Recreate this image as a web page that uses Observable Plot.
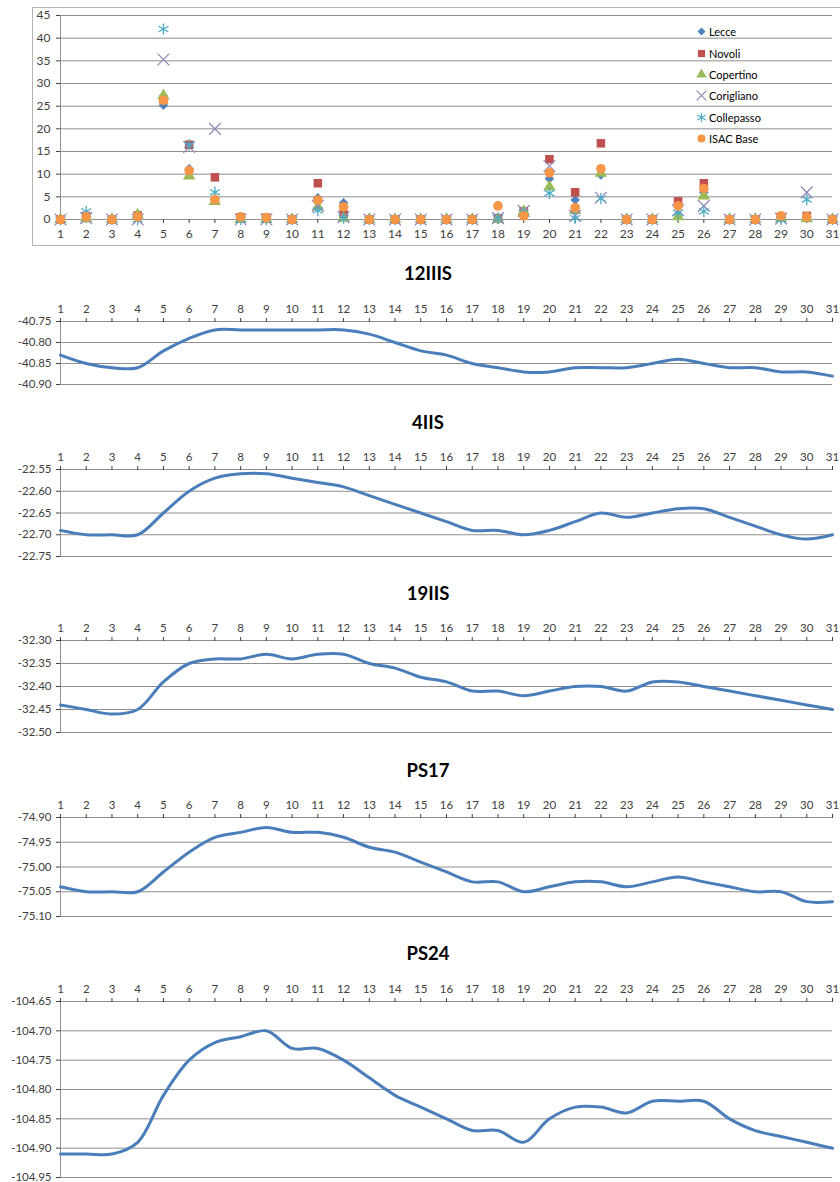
<!DOCTYPE html>
<html><head><meta charset="utf-8">
<script src="https://cdn.jsdelivr.net/npm/d3@7"></script>
<script src="https://cdn.jsdelivr.net/npm/@observablehq/plot@0.6"></script>
<style>
body{margin:0;background:#fff;font-family:Lato,"Noto Sans",sans-serif;}
#wrap{position:relative;width:840px;height:1182px;overflow:hidden;background:#fff;}
.abs{position:absolute;left:0;}
.title{position:absolute;left:0;width:856px;text-align:center;font:bold 18.5px Lato,"Noto Sans",sans-serif;color:#000;line-height:22px;}
#frame{position:absolute;left:32px;top:7px;width:830px;height:237px;border:1px solid #b4b4b4;}
#legend{position:absolute;left:696px;top:21px;font:11px Lato,"Noto Sans",sans-serif;color:#000;}
#legend .row{height:21.4px;display:flex;align-items:center;}
#legend svg{width:11px;height:11px;margin-right:2px;}
</style></head>
<body><div id="wrap"><div id="frame"></div></div>
<script>
const days = [1,2,3,4,5,6,7,8,9,10,11,12,13,14,15,16,17,18,19,20,21,22,23,24,25,26,27,28,29,30,31];
const seriesNames = ["Lecce","Novoli","Copertino","Corigliano","Collepasso","ISAC Base"];
const lecce      = [0,0.5,0,0.8,25.2,11.2,4.6,0.5,0.4,0,4.8,3.7,0,0,0,0,0,0,1.0,9.0,4.3,9.8,0,0,3.5,6.0,0,0,0.4,0.5,0];
const novoli     = [0,0.8,0,0.9,26.5,16.5,9.3,0.5,0.4,0,8.0,1.2,0,0,0,0,0,0.3,1.8,13.3,6.0,16.8,0,0,4.0,8.0,0,0,0.6,0.8,0];
const copertino  = [0,0.2,0,1.0,27.3,9.6,4.0,0,0,0,2.8,0.3,0,0,0,0,0,0,1.8,7.2,2.0,10.2,0,0,0.6,5.2,0,0,0.3,0.2,0];
const corigliano = [0,0.3,0,0,35.3,16.0,20.0,0,0,0,3.0,0.5,0,0,0,0,0,0.3,1.9,11.8,0.8,4.8,0,0,2.0,3.0,0,0,0.2,6.0,0];
const collepasso = [0,1.8,0,0,42.0,16.5,6.0,0,0,0,2.0,0.3,0,0,0,0,0,0.3,1.5,5.8,0.3,4.6,0,0,1.5,1.8,0,0,0,4.4,0];
const isacBase   = [0,0.6,0,0.6,26.3,10.8,4.4,0.6,0.4,0,4.3,2.8,0,0,0,0,0,3.0,0.8,10.3,2.6,11.2,0,0,3.0,6.8,0,0,0.8,0.6,0];
const rainTicks = [0,5,10,15,20,25,30,35,40,45];

const titles = ["12IIIS","4IIS","19IIS","PS17","PS24"];
const s12IIIS = [-40.83,-40.85,-40.86,-40.86,-40.82,-40.79,-40.77,-40.77,-40.77,-40.77,-40.77,-40.77,-40.78,-40.80,-40.82,-40.83,-40.85,-40.86,-40.87,-40.87,-40.86,-40.86,-40.86,-40.85,-40.84,-40.85,-40.86,-40.86,-40.87,-40.87,-40.88];
const s4IIS   = [-22.69,-22.70,-22.70,-22.70,-22.65,-22.60,-22.57,-22.56,-22.56,-22.57,-22.58,-22.59,-22.61,-22.63,-22.65,-22.67,-22.69,-22.69,-22.70,-22.69,-22.67,-22.65,-22.66,-22.65,-22.64,-22.64,-22.66,-22.68,-22.70,-22.71,-22.70];
const s19IIS  = [-32.44,-32.45,-32.46,-32.45,-32.39,-32.35,-32.34,-32.34,-32.33,-32.34,-32.33,-32.33,-32.35,-32.36,-32.38,-32.39,-32.41,-32.41,-32.42,-32.41,-32.40,-32.40,-32.41,-32.39,-32.39,-32.40,-32.41,-32.42,-32.43,-32.44,-32.45];
const sPS17   = [-75.04,-75.05,-75.05,-75.05,-75.01,-74.97,-74.94,-74.93,-74.92,-74.93,-74.93,-74.94,-74.96,-74.97,-74.99,-75.01,-75.03,-75.03,-75.05,-75.04,-75.03,-75.03,-75.04,-75.03,-75.02,-75.03,-75.04,-75.05,-75.05,-75.07,-75.07];
const sPS24   = [-104.91,-104.91,-104.91,-104.89,-104.81,-104.75,-104.72,-104.71,-104.70,-104.73,-104.73,-104.75,-104.78,-104.81,-104.83,-104.85,-104.87,-104.87,-104.89,-104.85,-104.83,-104.83,-104.84,-104.82,-104.82,-104.82,-104.85,-104.87,-104.88,-104.89,-104.90];
const ticks12IIIS = [-40.90,-40.85,-40.80,-40.75];
const ticks4IIS   = [-22.75,-22.70,-22.65,-22.60,-22.55];
const ticks19IIS  = [-32.50,-32.45,-32.40,-32.35,-32.30];
const ticksPS17   = [-75.10,-75.05,-75.00,-74.95,-74.90];
const ticksPS24   = [-104.95,-104.90,-104.85,-104.80,-104.75,-104.70,-104.65];

const wrap = document.getElementById("wrap");
const GRID = "#8e8e8e";
const TXT = "#404040";
const FONT = "Lato, 'Noto Sans', sans-serif";

// ---------- top scatter chart ----------
const rainValues = [lecce, novoli, copertino, corigliano, collepasso, isacBase];
const markStyle = [
  {symbol:"square", rotate:45, fill:"#4F81BD", r:3.8},
  {symbol:"square", rotate:0, fill:"#C0504D", r:4.8},
  {symbol:"triangle", rotate:0, fill:"#9BBB59", r:4.6},
  {symbol:"times", rotate:0, stroke:"#9686B6", r:5.4},
  {symbol:"asterisk", rotate:0, stroke:"#4BACC6", r:5.4},
  {symbol:"circle", rotate:0, fill:"#F79646", r:4.8}
];
const dotMarks = rainValues.map((vals, k) => {
  const data = days.map((d,i) => ({day:d, v:vals[i]}));
  const st = markStyle[k];
  const o = {x:"day", y:"v", symbol:st.symbol, r:st.r, rotate:st.rotate};
  if (st.fill) { o.fill = st.fill; o.stroke = "none"; }
  else { o.stroke = st.stroke; o.fill = "none"; o.strokeWidth = 1.3; }
  return Plot.dot(data, o);
});
const rainChart = Plot.plot({
  width:840, height:250, marginLeft:60, marginRight:8, marginTop:15, marginBottom:31,
  style:{fontFamily:FONT, fontSize:"12px", color:TXT, background:"transparent", overflow:"visible"},
  x:{domain:[1,31]}, y:{domain:[0,45]},
  marks:[
    Plot.gridY(rainTicks,{stroke:GRID, strokeOpacity:1}),
    Plot.ruleX([1],{stroke:GRID}),
    Plot.axisY(rainTicks,{tickSize:4, tickPadding:6, tickFormat:d=>String(d), label:null}),
    Plot.axisX(days,{tickSize:4, tickPadding:6, tickFormat:d=>String(d), label:null}),
    ...dotMarks
  ]
});
rainChart.classList.add("abs"); rainChart.style.top = "0px";
wrap.appendChild(rainChart);

// legend
const legendDiv = document.createElement("div");
legendDiv.id = "legend";
const symMap = {square:d3.symbolSquare, triangle:d3.symbolTriangle, times:d3.symbolTimes, asterisk:d3.symbolAsterisk, circle:d3.symbolCircle};
seriesNames.forEach((name, k) => {
  const st = markStyle[k];
  const row = document.createElement("div"); row.className = "row";
  const svg = d3.create("svg").attr("viewBox","-6 -6 12 12");
  const p = svg.append("path")
    .attr("d", d3.symbol(symMap[st.symbol], Math.PI*st.r*st.r*0.85)())
    .attr("transform", `rotate(${st.rotate})`);
  if (st.fill) p.attr("fill", st.fill); else p.attr("fill","none").attr("stroke", st.stroke).attr("stroke-width",1.3);
  row.appendChild(svg.node());
  const t = document.createElement("span"); t.textContent = name; row.appendChild(t);
  legendDiv.appendChild(row);
});
wrap.appendChild(legendDiv);

// ---------- line charts ----------
const lineSeries = [s12IIIS, s4IIS, s19IIS, sPS17, sPS24];
const lineTicks = [ticks12IIIS, ticks4IIS, ticks19IIS, ticksPS17, ticksPS24];
const layout = [
  {titleY:273, svgTop:291, h:63},
  {titleY:422, svgTop:439, h:87},
  {titleY:593, svgTop:610, h:92},
  {titleY:770, svgTop:787, h:99},
  {titleY:953, svgTop:971, h:176}
];
lineSeries.forEach((vals, k) => {
  const tk = lineTicks[k];
  const L = layout[k];
  const data = days.map((d,i) => ({day:d, v:vals[i]}));
  const chart = Plot.plot({
    width:840, height:30 + L.h + 8, marginLeft:60, marginRight:8, marginTop:30, marginBottom:8,
    style:{fontFamily:FONT, fontSize:"11.5px", color:TXT, background:"transparent", overflow:"visible"},
    x:{domain:[1,31]}, y:{domain:[tk[0], tk[tk.length-1]]},
    marks:[
      Plot.gridY(tk,{stroke:GRID, strokeOpacity:1}),
      Plot.ruleX([1],{stroke:GRID}),
      Plot.axisY(tk,{tickSize:4, tickPadding:5, tickFormat:d=>d.toFixed(2), label:null}),
      Plot.axisX(days,{anchor:"top", tickSize:4, tickPadding:5, tickFormat:d=>String(d), label:null}),
      Plot.line(data,{x:"day", y:"v", curve:"catmull-rom", stroke:"#4A7EBB", strokeWidth:3})
    ]
  });
  chart.classList.add("abs"); chart.style.top = L.svgTop + "px";
  wrap.appendChild(chart);
  const t = document.createElement("div");
  t.className = "title"; t.textContent = titles[k];
  t.style.top = (L.titleY - 11) + "px";
  wrap.appendChild(t);
});
</script>
</body></html>
